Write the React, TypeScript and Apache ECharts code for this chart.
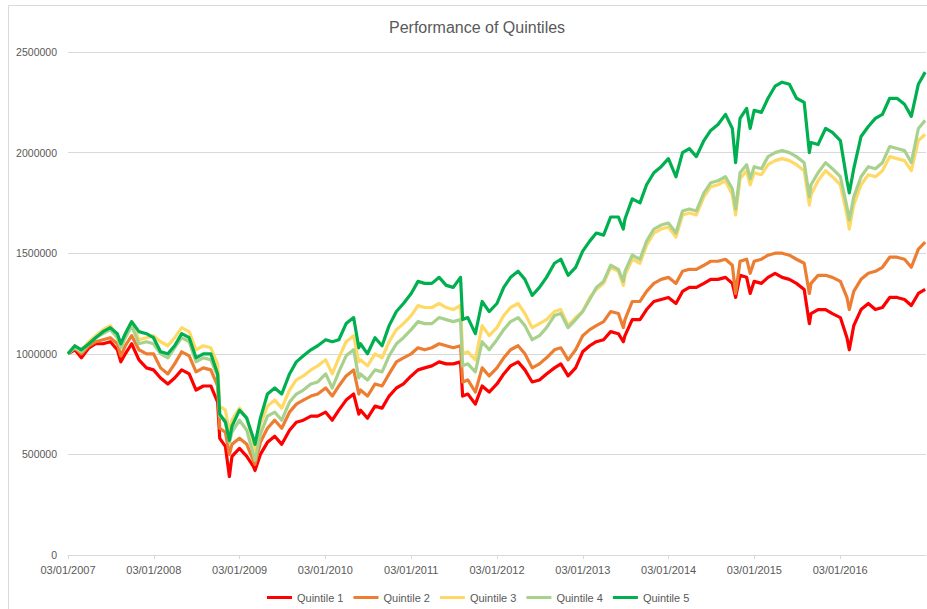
import React, { useEffect, useRef } from "react";
import * as echarts from "echarts";

// Observation dates (dd/mm/yyyy axis labels, chart spans 03/01/2007 .. end of 2016)
const dates = [
  "2007-01-03","2007-02-01","2007-03-01","2007-04-02","2007-05-01","2007-06-01","2007-07-02","2007-08-01","2007-08-16","2007-09-04","2007-10-01","2007-11-01","2007-12-03",
  "2008-01-02","2008-02-01","2008-03-03","2008-04-01","2008-05-01","2008-06-02","2008-07-01","2008-08-01","2008-09-02","2008-10-01","2008-10-10","2008-11-03","2008-11-20","2008-12-01",
  "2009-01-02","2009-02-02","2009-03-02","2009-03-09","2009-04-01","2009-05-01","2009-06-01","2009-07-01","2009-08-03","2009-09-01","2009-10-01","2009-11-02","2009-12-01",
  "2010-01-04","2010-02-01","2010-03-01","2010-04-01","2010-05-03","2010-05-25","2010-06-01","2010-07-01","2010-08-02","2010-09-01","2010-10-01","2010-11-01","2010-12-01",
  "2011-01-03","2011-02-01","2011-03-01","2011-04-01","2011-05-02","2011-06-01","2011-07-01","2011-08-01","2011-08-10","2011-09-01","2011-10-03","2011-11-01","2011-12-01",
  "2012-01-03","2012-02-01","2012-03-01","2012-04-02","2012-05-01","2012-06-01","2012-07-02","2012-08-01","2012-09-04","2012-10-01","2012-11-01","2012-12-03",
  "2013-01-02","2013-02-01","2013-03-01","2013-04-01","2013-05-01","2013-06-03","2013-06-24","2013-07-01","2013-08-01","2013-09-03","2013-10-01","2013-11-01","2013-12-02",
  "2014-01-02","2014-02-03","2014-03-03","2014-04-01","2014-05-01","2014-06-02","2014-07-01","2014-08-01","2014-09-02","2014-10-01","2014-10-15","2014-11-03","2014-12-01","2014-12-16",
  "2015-01-02","2015-02-02","2015-03-02","2015-04-01","2015-05-01","2015-06-01","2015-07-01","2015-08-03","2015-08-25","2015-09-01","2015-10-01","2015-11-02","2015-12-01",
  "2016-01-04","2016-02-01","2016-02-11","2016-03-01","2016-04-01","2016-05-02","2016-06-01","2016-07-01","2016-08-01","2016-09-01","2016-10-03","2016-11-01","2016-12-01","2016-12-30",
];

// Portfolio values in millions
const quintile1 = [
  1.00, 1.02, 0.98, 1.03, 1.05, 1.05, 1.06, 1.02, 0.96, 1.00, 1.05, 0.97, 0.93,
  0.92, 0.88, 0.85, 0.88, 0.92, 0.90, 0.82, 0.84, 0.84, 0.76, 0.58, 0.54, 0.39, 0.49,
  0.53, 0.49, 0.44, 0.42, 0.50, 0.56, 0.59, 0.55, 0.62, 0.66, 0.67, 0.69, 0.69,
  0.71, 0.67, 0.72, 0.77, 0.80, 0.70, 0.72, 0.68, 0.74, 0.73, 0.79, 0.83, 0.85,
  0.89, 0.92, 0.93, 0.94, 0.96, 0.95, 0.95, 0.96, 0.79, 0.80, 0.75, 0.84, 0.81,
  0.85, 0.90, 0.94, 0.96, 0.92, 0.86, 0.87, 0.90, 0.93, 0.95, 0.89, 0.93,
  1.01, 1.04, 1.06, 1.07, 1.11, 1.10, 1.06, 1.09, 1.17, 1.17, 1.22, 1.26, 1.27,
  1.28, 1.25, 1.31, 1.33, 1.33, 1.35, 1.37, 1.37, 1.38, 1.35, 1.28, 1.39, 1.38, 1.30,
  1.36, 1.35, 1.38, 1.40, 1.38, 1.37, 1.35, 1.32, 1.15, 1.20, 1.22, 1.22, 1.20,
  1.18, 1.08, 1.02, 1.14, 1.22, 1.25, 1.22, 1.23, 1.28, 1.28, 1.27, 1.24, 1.30, 1.32,
];
const quintile2 = [
  1.00, 1.03, 1.00, 1.04, 1.06, 1.07, 1.08, 1.05, 0.99, 1.04, 1.09, 1.02, 1.00,
  1.00, 0.93, 0.90, 0.95, 1.01, 0.99, 0.91, 0.93, 0.92, 0.84, 0.63, 0.61, 0.50, 0.55,
  0.58, 0.55, 0.47, 0.45, 0.56, 0.63, 0.67, 0.63, 0.71, 0.75, 0.77, 0.79, 0.80,
  0.83, 0.79, 0.84, 0.89, 0.92, 0.80, 0.82, 0.79, 0.85, 0.84, 0.90, 0.96, 0.98,
  1.00, 1.03, 1.02, 1.03, 1.05, 1.04, 1.03, 1.04, 0.86, 0.87, 0.81, 0.93, 0.89,
  0.93, 0.98, 1.02, 1.04, 1.00, 0.93, 0.95, 0.98, 1.02, 1.03, 0.97, 1.02,
  1.09, 1.12, 1.14, 1.16, 1.21, 1.20, 1.13, 1.17, 1.26, 1.26, 1.31, 1.35, 1.37,
  1.38, 1.35, 1.41, 1.42, 1.42, 1.44, 1.46, 1.46, 1.47, 1.44, 1.30, 1.46, 1.47, 1.40,
  1.46, 1.47, 1.49, 1.50, 1.50, 1.49, 1.47, 1.45, 1.30, 1.35, 1.39, 1.39, 1.38,
  1.36, 1.28, 1.22, 1.31, 1.37, 1.40, 1.41, 1.43, 1.48, 1.48, 1.47, 1.43, 1.52, 1.555,
];
const quintile3 = [
  1.00, 1.04, 1.02, 1.06, 1.09, 1.12, 1.14, 1.09, 1.04, 1.10, 1.16, 1.07, 1.08,
  1.09, 1.06, 1.04, 1.08, 1.13, 1.11, 1.02, 1.04, 1.03, 0.95, 0.74, 0.72, 0.61, 0.67,
  0.73, 0.68, 0.56, 0.52, 0.65, 0.74, 0.77, 0.73, 0.82, 0.87, 0.89, 0.92, 0.94,
  0.97, 0.90, 0.98, 1.06, 1.09, 0.96, 0.97, 0.94, 1.00, 0.98, 1.06, 1.12, 1.15,
  1.19, 1.24, 1.23, 1.23, 1.25, 1.23, 1.22, 1.24, 1.00, 1.01, 0.97, 1.14, 1.09,
  1.13, 1.19, 1.23, 1.25, 1.20, 1.13, 1.15, 1.17, 1.21, 1.22, 1.14, 1.18,
  1.21, 1.28, 1.32, 1.35, 1.43, 1.41, 1.34, 1.39, 1.47, 1.45, 1.54, 1.60, 1.62,
  1.63, 1.58, 1.69, 1.70, 1.69, 1.78, 1.83, 1.84, 1.86, 1.79, 1.69, 1.87, 1.91, 1.84,
  1.90, 1.89, 1.94, 1.96, 1.97, 1.96, 1.94, 1.91, 1.74, 1.79, 1.86, 1.91, 1.88,
  1.84, 1.69, 1.62, 1.74, 1.84, 1.89, 1.88, 1.91, 1.98, 1.97, 1.96, 1.91, 2.06, 2.09,
];
const quintile4 = [
  1.00, 1.03, 1.01, 1.05, 1.08, 1.10, 1.12, 1.08, 1.03, 1.08, 1.14, 1.05, 1.06,
  1.05, 1.00, 0.98, 1.03, 1.08, 1.06, 0.96, 0.98, 0.97, 0.89, 0.69, 0.67, 0.56, 0.61,
  0.67, 0.62, 0.50, 0.47, 0.60, 0.69, 0.71, 0.67, 0.76, 0.80, 0.82, 0.85, 0.86,
  0.90, 0.83, 0.91, 0.99, 1.02, 0.88, 0.90, 0.87, 0.92, 0.91, 0.99, 1.05, 1.08,
  1.12, 1.16, 1.15, 1.15, 1.18, 1.17, 1.16, 1.17, 0.94, 0.95, 0.91, 1.06, 1.02,
  1.07, 1.12, 1.16, 1.18, 1.14, 1.07, 1.09, 1.13, 1.19, 1.20, 1.13, 1.17,
  1.21, 1.27, 1.33, 1.36, 1.44, 1.42, 1.36, 1.41, 1.49, 1.47, 1.56, 1.62, 1.64,
  1.65, 1.60, 1.71, 1.72, 1.71, 1.80, 1.85, 1.86, 1.88, 1.82, 1.72, 1.90, 1.94, 1.87,
  1.93, 1.92, 1.98, 2.00, 2.01, 2.00, 1.98, 1.95, 1.78, 1.84, 1.90, 1.95, 1.92,
  1.88, 1.73, 1.665, 1.78, 1.88, 1.93, 1.92, 1.95, 2.03, 2.02, 2.01, 1.95, 2.12, 2.16,
];
const quintile5 = [
  1.00, 1.04, 1.02, 1.05, 1.08, 1.11, 1.13, 1.10, 1.05, 1.10, 1.16, 1.11, 1.10,
  1.08, 1.01, 1.00, 1.04, 1.10, 1.08, 0.98, 1.00, 1.00, 0.90, 0.70, 0.66, 0.57, 0.64,
  0.72, 0.68, 0.58, 0.55, 0.68, 0.80, 0.83, 0.80, 0.90, 0.96, 0.99, 1.02, 1.04,
  1.07, 1.06, 1.07, 1.15, 1.18, 1.03, 1.05, 1.00, 1.08, 1.04, 1.14, 1.21, 1.25,
  1.30, 1.36, 1.35, 1.35, 1.38, 1.34, 1.33, 1.38, 1.17, 1.18, 1.10, 1.26, 1.21,
  1.25, 1.33, 1.38, 1.41, 1.37, 1.29, 1.33, 1.38, 1.45, 1.47, 1.39, 1.43,
  1.51, 1.56, 1.60, 1.59, 1.68, 1.68, 1.62, 1.67, 1.77, 1.75, 1.84, 1.90, 1.93,
  1.97, 1.88, 2.00, 2.02, 1.98, 2.06, 2.11, 2.14, 2.19, 2.12, 1.95, 2.17, 2.22, 2.12,
  2.21, 2.20, 2.27, 2.33, 2.35, 2.34, 2.27, 2.25, 2.00, 2.05, 2.04, 2.12, 2.10,
  2.06, 1.86, 1.80, 1.92, 2.08, 2.13, 2.17, 2.19, 2.27, 2.27, 2.24, 2.18, 2.34, 2.40,
];

const seriesNames = ["Quintile 1", "Quintile 2", "Quintile 3", "Quintile 4", "Quintile 5"];
const seriesValues = [quintile1, quintile2, quintile3, quintile4, quintile5];
const seriesColors = ["#FF0000", "#ED7D31", "#FFD966", "#A9D18E", "#00B050"];

const xTickLabels = [
  "03/01/2007", "03/01/2008", "03/01/2009", "03/01/2010", "03/01/2011",
  "03/01/2012", "03/01/2013", "03/01/2014", "03/01/2015", "03/01/2016",
];
const yTickLabels = ["0", "500000", "1000000", "1500000", "2000000", "2500000"];

const START = Date.UTC(2007, 0, 3);
const YEAR_MS = 365.25 * 86400000;
function yearsSinceStart(d: string): number {
  const [y, m, dd] = d.split("-").map(Number);
  return (Date.UTC(y, m - 1, dd) - START) / YEAR_MS;
}

const FONT = "'Liberation Sans', Arial, sans-serif";
const TEXT = "#595959";
const GRID = "#d9d9d9";

export default function App() {
  const ref = useRef<HTMLDivElement>(null);

  useEffect(() => {
    if (!ref.current) return;
    const chart = echarts.init(ref.current, undefined, { renderer: "svg" });
    chart.setOption({
      animation: false,
      backgroundColor: "#ffffff",
      textStyle: { fontFamily: FONT },
      title: {
        text: "Performance of Quintiles",
        left: 384,
        top: 14,
        textStyle: { fontFamily: FONT, fontSize: 16, fontWeight: "normal", color: TEXT },
      },
      graphic: [
        {
          type: "rect",
          silent: true,
          z: -10,
          shape: { x: 8.5, y: 5.5, width: 940, height: 640 },
          style: { fill: "none", stroke: GRID, lineWidth: 1 },
        },
      ],
      legend: {
        data: seriesNames,
        left: 262,
        top: 587,
        icon: "rect",
        itemWidth: 25,
        itemHeight: 3,
        itemGap: 10,
        textStyle: { fontFamily: FONT, fontSize: 11, color: TEXT },
      },
      grid: { left: 68, right: 1, top: 52, bottom: 54, containLabel: false },
      xAxis: {
        type: "value",
        min: 0,
        max: 10,
        interval: 1,
        axisLine: { show: true, lineStyle: { color: GRID, width: 1 } },
        axisTick: { show: true, length: 4, lineStyle: { color: GRID } },
        splitLine: { show: false },
        axisLabel: {
          margin: 9,
          fontFamily: FONT,
          fontSize: 11,
          color: TEXT,
          showMaxLabel: false,
          formatter: (v: number) => xTickLabels[Math.round(v)] ?? "",
        },
      },
      yAxis: {
        type: "value",
        min: 0,
        max: 2.5,
        interval: 0.5,
        axisLine: { show: false },
        axisTick: { show: false },
        splitLine: { show: true, lineStyle: { color: GRID, width: 1 } },
        axisLabel: {
          margin: 11,
          fontFamily: FONT,
          fontSize: 10.5,
          color: TEXT,
          formatter: (v: number) => yTickLabels[Math.round(v / 0.5)] ?? "",
        },
      },
      series: seriesNames.map((name, s) => ({
        name,
        type: "line",
        showSymbol: false,
        symbol: "none",
        color: seriesColors[s],
        lineStyle: { width: 3.2, color: seriesColors[s], join: "round" },
        emphasis: { disabled: true },
        data: dates.map((d, i) => [yearsSinceStart(d), seriesValues[s][i]]),
      })),
    });
    return () => chart.dispose();
  }, []);

  return (
    <div
      ref={ref}
      style={{ position: "absolute", left: 0, top: 0, width: 927, height: 609 }}
    />
  );
}
